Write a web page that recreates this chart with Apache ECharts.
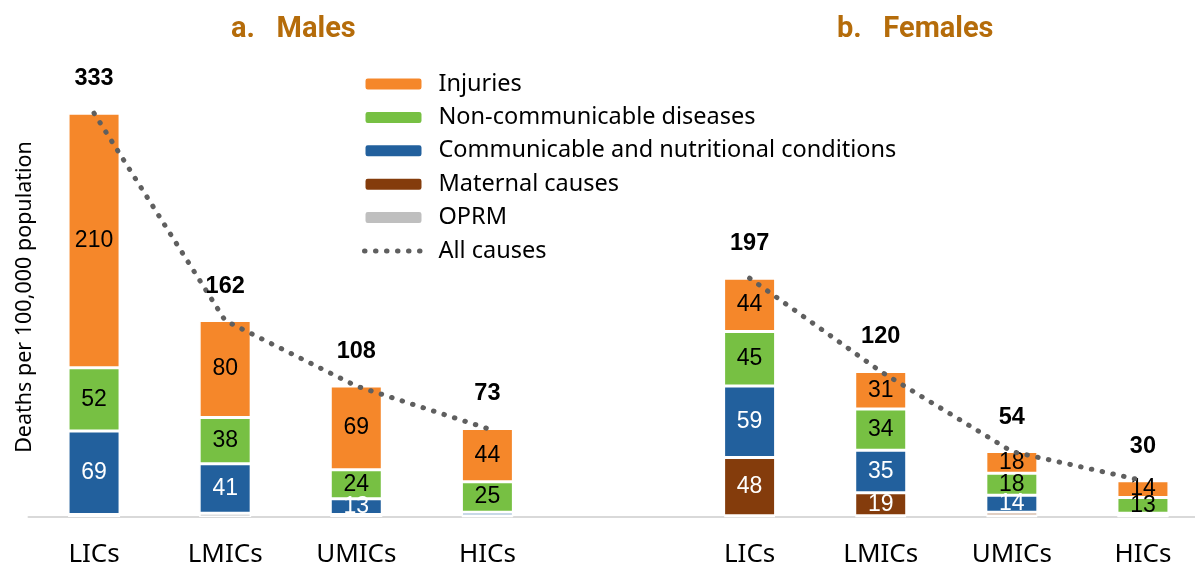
<!DOCTYPE html>
<html>
<head>
<meta charset="utf-8">
<script src="https://cdn.jsdelivr.net/npm/echarts@6/dist/echarts.min.js"></script>
<style>
  html, body { margin: 0; padding: 0; background: #fff; }
  #main { width: 1195px; height: 567px; }
</style>
</head>
<body>
<div id="main"></div>
<script>
// categories: males then a gap then females
var groups = ['LICs', 'LMICs', 'UMICs', 'HICs'];

// values (deaths per 100,000)
var maleInjuries = [210, 80, 69, 44];
var maleNcd      = [52, 38, 24, 25];
var maleComm     = [69, 41, 13, 3];
var maleMaternal = [0, 0, 0, 0];
var maleOprm     = [2, 3, 2, 1];
var maleAll      = [333, 162, 108, 73];

var femaleInjuries = [44, 31, 18, 14];
var femaleNcd      = [45, 34, 18, 13];
var femaleComm     = [59, 35, 14, 2];
var femaleMaternal = [48, 19, 3, 0];
var femaleOprm     = [1, 1, 1, 1];
var femaleAll      = [197, 120, 54, 30];

var font = 'Noto Sans';
var numFont = 'Liberation Sans';

// join the two panels with one empty slot in between
function join(m, f) {
    return m.concat(['-']).concat(f);
}
var categories = groups.concat(['']).concat(groups);

function segLabel(color) {
    return {
        show: true,
        position: 'inside',
        color: color,
        fontFamily: numFont,
        fontSize: 23,
        formatter: function (p) {
            return p.value >= 10 ? p.value : '';
        }
    };
}

function barSeries(name, data, color, labelColor) {
    return {
        name: name,
        type: 'bar',
        stack: 'deaths',
        barWidth: 52,
        data: data,
        itemStyle: { color: color, borderColor: '#fff', borderWidth: 1.5 },
        label: segLabel(labelColor),
        emphasis: { disabled: true }
    };
}

var dotLine = { color: '#5F5F5F', width: 5, type: [0.5, 10.5], cap: 'round' };
var titleStyle = { color: '#B56C0A', fontSize: 29, fontWeight: 'bold', fontFamily: 'Roboto' };

var myChart = echarts.init(document.getElementById('main'));

var option = {
    animation: false,
    backgroundColor: '#fff',
    title: [
        { text: 'a.   Males', left: 226, top: 10, textStyle: titleStyle },
        { text: 'b.   Females', left: 832, top: 10, textStyle: titleStyle }
    ],
    legend: {
        orient: 'vertical',
        left: 362,
        top: 72,
        padding: 0,
        itemWidth: 58,
        itemHeight: 13,
        itemGap: 9.4,
        textStyle: { color: '#000', fontSize: 23.5, lineHeight: 24, fontFamily: font, padding: [0, 0, 0, 11] },
        data: ['Injuries', 'Non-communicable diseases', 'Communicable and nutritional conditions',
               'Maternal causes', 'OPRM',
               { name: 'All causes', itemStyle: { opacity: 0 }, lineStyle: dotLine }]
    },
    grid: { left: 28.5, right: -13.5, top: 32, bottom: 50, outerBoundsMode: 'none' },
    xAxis: {
        type: 'category',
        data: categories,
        axisLine: { lineStyle: { color: '#d9d9d9', width: 2 } },
        axisTick: { show: false },
        axisLabel: { color: '#000', fontSize: 26, fontFamily: font, margin: 25, interval: 0 }
    },
    yAxis: {
        type: 'value',
        min: 0,
        max: 400,
        show: false
    },
    graphic: [{
        type: 'text',
        x: 25,
        y: 297,
        rotation: Math.PI / 2,
        style: {
            text: 'Deaths per 100,000 population',
            fontSize: 21.5,
            fontFamily: font,
            fill: '#000',
            align: 'center',
            verticalAlign: 'middle'
        }
    }],
    series: [
        barSeries('OPRM', join(maleOprm, femaleOprm), '#BFBFBF', '#000'),
        barSeries('Maternal causes', join(maleMaternal, femaleMaternal), '#843C0C', '#fff'),
        barSeries('Communicable and nutritional conditions', join(maleComm, femaleComm), '#22609D', '#fff'),
        barSeries('Non-communicable diseases', join(maleNcd, femaleNcd), '#77C043', '#000'),
        barSeries('Injuries', join(maleInjuries, femaleInjuries), '#F5872A', '#000'),
        {
            name: 'All causes',
            type: 'line',
            data: join(maleAll, femaleAll),
            symbol: 'none',
            z: 5,
            lineStyle: dotLine,
            itemStyle: { color: '#5F5F5F' },
            emphasis: { disabled: true }
        },
        {
            // invisible copy of the totals that only carries the labels
            name: 'totals',
            type: 'line',
            data: join(maleAll, femaleAll),
            symbol: 'circle',
            symbolSize: 1,
            z: 6,
            lineStyle: { opacity: 0 },
            itemStyle: { color: 'transparent' },
            label: {
                show: true,
                position: 'top',
                distance: 22,
                color: '#000',
                fontWeight: 'bold',
                fontSize: 23.5,
                lineHeight: 24,
                fontFamily: numFont
            },
            emphasis: { disabled: true }
        }
    ]
};

myChart.setOption(option);
</script>
</body>
</html>
